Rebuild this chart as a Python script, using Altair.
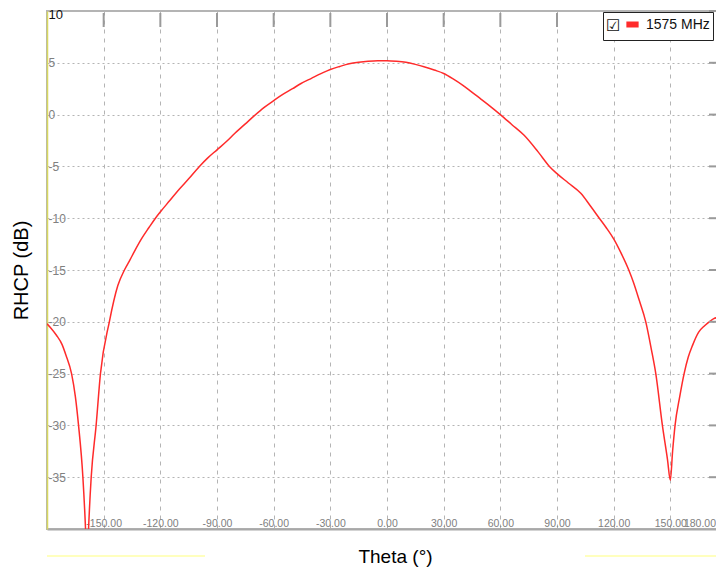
import altair as alt
import pandas as pd

# ---- data ----
theta = [-180, -178, -175, -172, -170, -167, -165, -163.3, -161, -159.6, -158.8, -158,
         -156.6, -154, -151.7, -147, -142.5, -139, -136, -133.7, -130, -126, -122.6,
         -119.6, -115, -110, -105, -99.3, -95, -90, -85, -80.8, -75, -70.2, -65, -59.6,
         -56, -50, -45.5, -40, -35, -30, -25, -20, -15, -10, -5, 0, 5, 10, 15, 20, 25,
         30, 35, 40, 44.4, 49.7, 55, 60, 66, 72.6, 80, 86, 90, 96, 102.6, 108, 112.4,
         116, 120, 124, 128, 130.5, 133.5, 137, 140, 142.3, 145.8, 148.5, 150, 151.2,
         152.5, 155, 157.3, 159.5, 161.7, 165, 168, 170.6, 173, 175, 178, 180]
rhcp = [-20.2, -20.6, -21.3, -22.2, -23.2, -25.0, -27.2, -30.0, -35.0, -40.0, -44.0, -40.0,
        -35.0, -30.0, -25.0, -20.0, -16.5, -15.0, -14.0, -13.2, -12.0, -10.9, -10.0,
        -9.3, -8.3, -7.2, -6.2, -5.0, -4.2, -3.4, -2.6, -1.85, -0.9, -0.1, 0.7, 1.4,
        1.85, 2.5, 3.0, 3.5, 3.95, 4.36, 4.65, 4.9, 5.05, 5.15, 5.2, 5.2, 5.15, 5.05, 4.85, 4.6, 4.3,
        3.97, 3.45, 2.85, 2.25, 1.5, 0.75, 0.0, -0.95, -2.0, -3.6, -5.0, -5.7, -6.6, -7.6, -8.9, -10.0,
        -10.9, -12.0, -13.4, -15.0, -16.2, -17.9, -20.0, -22.7, -25.0, -30.0, -33.3, -35.3, -32.5,
        -30.0, -27.2, -25.0, -23.4, -22.3, -21.0, -20.4, -20.0, -19.7, -19.6, -19.9, -20.1]
series_name = "1575 MHz"
x_ticks = [-150, -120, -90, -60, -30, 0, 30, 60, 90, 120, 150, 180]
top_ticks = [-150, -120, -90, -60, -30, 0, 30, 60, 90, 120, 150]
y_ticks = [10, 5, 0, -5, -10, -15, -20, -25, -30, -35]

df = pd.DataFrame({"theta": theta, "rhcp": rhcp, "series": series_name})

W, H = 680, 518
SANS = "Liberation Sans, Arial, sans-serif"

x_scale = alt.Scale(domain=[-180, 180], nice=False, zero=False)
y_scale = alt.Scale(domain=[-40, 10], nice=False, zero=False)

x_axis = alt.Axis(
    values=x_ticks,
    labelExpr="replace(format(datum.value, '.2f'), '\u2212', '-')",
    ticks=False, tickSize=0,
    labelPadding=-1, labelBaseline="bottom", labelFlush=True, labelFlushOffset=-11.5,
    labelOverlap=False,
    labelFont=SANS, labelFontSize=10.5, labelColor="#808080",
    domainColor="#a8a8a8", domainWidth=2,
    grid=True, gridColor="#b4b4b4", gridDash=[4, 5], gridWidth=1,
    title="Theta (°)", titleFont=SANS, titleFontSize=19, titleFontWeight="normal",
    titleColor="black", titleX=348, titleY=27, titleAlign="center", titleBaseline="middle",
)
y_axis = alt.Axis(
    values=y_ticks,
    labelExpr="replace(format(datum.value, 'd'), '\u2212', '-')",
    ticks=False, tickSize=0,
    labelAlign="left", labelPadding=-1,
    labelBaseline={"condition": {"test": "datum.value == 10", "value": "top"}, "value": "middle"},
    labelOffset={"condition": {"test": "datum.value == 10", "value": -3}, "value": 0},
    labelFont=SANS,
    labelFontSize={"condition": {"test": "datum.value == 10", "value": 13}, "value": 12},
    labelColor={"condition": {"test": "datum.value == 10", "value": "#111111"}, "value": "#808080"},
    domainColor="#d8d860", domainWidth=1.5,
    grid=True, gridColor="#b4b4b4", gridDash=[2, 3], gridWidth=1,
    title="RHCP (dB)", titleFont=SANS, titleFontSize=20, titleFontWeight="normal",
    titleColor="black", titleX=-26, titleY=259, titleAngle=270,
    titleAlign="center", titleBaseline="middle",
)

line = alt.Chart(df).mark_line(clip=True, strokeWidth=1.5, interpolate="monotone").encode(
    x=alt.X("theta:Q", scale=x_scale, axis=x_axis),
    y=alt.Y("rhcp:Q", scale=y_scale, axis=y_axis),
    color=alt.Color(
        "series:N", scale=alt.Scale(range=["#ff2b2b"]),
        legend=alt.Legend(
            title="☑", titleOrient="left", titleFontSize=16, titleColor="#111111",
            titleFont="DejaVu Sans", titlePadding=2,
            orient="none", legendX=556, legendY=1,
            strokeColor="#222222", fillColor="white",
            padding=3, cornerRadius=0,
            symbolType="stroke", symbolStrokeWidth=6, symbolSize=150,
            symbolStrokeColor="#e02030",
            labelFont=SANS, labelFontSize=14, labelColor="#111111",
        ),
    ),
)

top_tk = alt.Chart(pd.DataFrame({"theta": top_ticks})).mark_rule(
    color="#9a9a9a", strokeWidth=2).encode(
    x=alt.X("theta:Q", scale=x_scale, axis=x_axis),
    y=alt.value(2), y2=alt.value(16),
)

right_tk = alt.Chart(pd.DataFrame({"rhcp": y_ticks})).mark_rule(
    color="#9a9a9a", strokeWidth=2).encode(
    y=alt.Y("rhcp:Q", scale=y_scale, axis=y_axis),
    x=alt.value(W - 18), x2=alt.value(W - 10),
)

deco = pd.DataFrame({"a": [0]})
yl1 = alt.Chart(deco).mark_rule(color="#ffffa8", strokeWidth=1.5).encode(
    x=alt.value(0), x2=alt.value(158), y=alt.value(545))
yl2 = alt.Chart(deco).mark_rule(color="#ffffa8", strokeWidth=1.5).encode(
    x=alt.value(538), x2=alt.value(W), y=alt.value(545))

chart = alt.layer(line, top_tk, right_tk, yl1, yl2).properties(
    width=W, height=H,
    autosize=alt.AutoSizeParams(type="none"),
    padding={"left": 39, "top": 3, "right": -11, "bottom": 38},
    background="white",
).configure_view(stroke="#b4b4b4", strokeWidth=2)

chart.save("out.html", embed_options={"renderer": "svg", "actions": False})
